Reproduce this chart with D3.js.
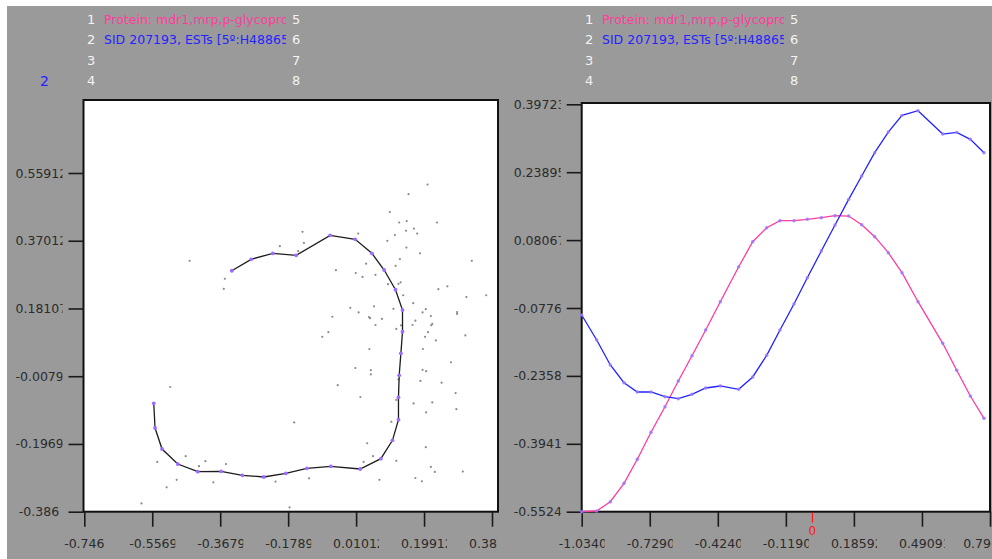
<!DOCTYPE html>
<html>
<head>
<meta charset="utf-8">
<script src="https://cdn.jsdelivr.net/npm/d3@7"></script>
<style>
  html, body { margin: 0; padding: 0; background: #ffffff; overflow: hidden; }
  svg { display: block; font-family: "DejaVu Sans", Verdana, sans-serif; }
</style>
</head>
<body>
<svg id="chart" width="992" height="559"></svg>
<script>
// ---- series names (legend slots 1..8, only 1 and 2 are used) ----
const seriesNames = ["Protein: mdr1,mrp,p-glycoprotein", "SID 207193, ESTs [5º:H48865]"];
const seriesColors = ["#ff3d9e", "#2323ff"];

// ---- left panel: projected samples ----
const scatterX = [0.209,0.156,0.104,0.235,0.130,0.151,0.171,0.149,0.180,0.118,0.016,-0.139,0.097,-0.135,-0.202,0.150,0.188,-0.151,-0.453,0.132,
  0.038,0.120,0.332,-0.046,0.009,0.064,0.028,-0.355,-0.358,0.134,0.128,0.099,0.264,0.239,0.372,0.317,0.141,0.169,0.060,-0.006,
  0.114,0.017,0.204,0.195,0.291,0.291,0.046,0.049,0.082,0.218,-0.056,0.175,0.135,0.167,0.222,0.219,0.064,0.122,0.210,-0.067,
  -0.084,0.202,0.314,0.232,0.047,0.196,0.008,0.051,0.051,0.195,0.205,0.274,0.189,0.248,0.128,0.022,0.122,0.287,0.170,0.222,
  0.289,-0.041,-0.507,0.205,0.108,-0.162,0.204,0.041,0.057,0.031,0.122,0.218,0.229,0.307,0.175,0.193,0.075,-0.464,-0.543,-0.427,
  -0.409,-0.352,-0.489,-0.517,-0.387,-0.214,-0.121,-0.587,-0.175];
const scatterY = [0.527,0.500,0.450,0.421,0.421,0.425,0.404,0.398,0.390,0.386,0.390,0.395,0.370,0.364,0.355,0.351,0.335,0.341,0.314,0.319,
  0.306,0.300,0.314,0.288,0.280,0.275,0.269,0.264,0.236,0.254,0.250,0.249,0.243,0.235,0.218,0.213,0.218,0.196,0.187,0.183,
  0.180,0.170,0.179,0.170,0.171,0.166,0.157,0.154,0.152,0.160,0.158,0.147,0.134,0.135,0.138,0.134,0.135,0.124,0.115,0.115,
  0.102,0.102,0.106,0.092,0.068,0.068,0.015,0.009,-0.003,0.010,0.006,0.031,-0.021,-0.026,-0.017,-0.066,-0.074,-0.055,-0.084,-0.081,
  -0.100,-0.033,-0.038,-0.109,-0.135,-0.137,-0.206,-0.195,-0.231,-0.247,-0.244,-0.261,-0.275,-0.274,-0.292,-0.301,-0.297,-0.231,-0.247,-0.259,
  -0.245,-0.253,-0.297,-0.318,-0.304,-0.302,-0.293,-0.363,-0.374];

// ---- left panel: principal curve nodes ----
const curveX = [-0.3357,-0.2820,-0.2216,-0.1567,-0.0621,0.0075,0.0540,0.0882,0.1197,0.1392,0.1392,0.1347,0.1300,0.1280,0.1280,
  0.1113,0.0790,0.0214,-0.0601,-0.1269,-0.1854,-0.2466,-0.3062,-0.3655,-0.4303,-0.4860,-0.5297,-0.5492,-0.5528];
const curveY = [0.2864,0.3182,0.3350,0.3294,0.3852,0.3740,0.3350,0.2884,0.2334,0.1768,0.1162,0.0560,-0.0054,-0.0668,-0.1293,
  -0.1868,-0.2381,-0.2669,-0.2593,-0.2649,-0.2789,-0.2892,-0.2844,-0.2733,-0.2744,-0.2529,-0.2111,-0.1525,-0.0836];

// ---- right panel: profiles along the curve ----
const lambda = [-1.034,-0.9668,-0.9058,-0.8444,-0.7848,-0.7234,-0.6607,-0.6011,-0.5397,-0.4783,-0.4128,-0.3304,-0.2676,-0.2049,-0.1453,
  -0.0826,-0.0229,0.0398,0.1012,0.1626,0.2208,0.2791,0.3401,0.4015,0.4732,0.5839,0.6466,0.7076,0.7690];
const proteinProfile = [-0.5524,-0.5508,-0.5291,-0.4862,-0.4303,-0.3673,-0.3077,-0.2478,-0.1888,-0.1289,-0.0629,0.0186,0.0769,0.1095,0.1259,
  0.1259,0.1291,0.1329,0.1375,0.1368,0.1165,0.0886,0.0513,0.0047,-0.0629,-0.1599,-0.2228,-0.2827,-0.3347];
const estProfile = [-0.0939,-0.1522,-0.2105,-0.2517,-0.2734,-0.2734,-0.2844,-0.2890,-0.2788,-0.2641,-0.2594,-0.2671,-0.2384,-0.1879,-0.1289,
  -0.0683,-0.0070,0.0552,0.1158,0.1757,0.2300,0.2844,0.3326,0.3715,0.3822,0.3279,0.3319,0.3156,0.2844];

// ---- tick values and their printed labels ----
const leftXTicks = [-0.746,-0.556975,-0.36795,-0.178925,0.0101,0.199125,0.38815];
const leftXLabels = ["-0.746","-0.556975","-0.36795","-0.178925","0.010125","0.199125","0.38815"];
const leftYTicks = [-0.386,-0.196975,-0.00795,0.181075,0.3701,0.559125];
const leftYLabels = ["-0.386","-0.196975","-0.00795","0.181075","0.370125","0.559125"];
const rightXTicks = [-1.034,-0.72902,-0.42404,-0.11906,0.18592,0.4909,0.79588];
const rightXLabels = ["-1.03400","-0.72902","-0.42404","-0.11906","0.185925","0.490912","0.79588"];
const rightYTicks = [-0.55245,-0.39417,-0.23589,-0.07761,0.08067,0.23895,0.39723];
const rightYLabels = ["-0.55245","-0.39417","-0.23589","-0.07761","0.08067","0.23895","0.39723"];

// ---- layout ----
const W = 992, H = 559;
const panelShift = 498;
const svg = d3.select("#chart");
const defs = svg.append("defs");
let clipCount = 0;

svg.append("rect").attr("x", 7).attr("y", 6).attr("width", W - 7).attr("height", H - 6).attr("fill", "#9a9a9a");

const frameL = { x0: 83.5, x1: 498, y0: 100, y1: 511.7 };
const frameR = { x0: 581.7, x1: 990, y0: 103, y1: 511.7 };

const xL = d3.scaleLinear().domain([leftXTicks[0], leftXTicks[6]]).range([84.3, 492]);
const yL = d3.scaleLinear().domain([leftYTicks[0], leftYTicks[5]]).range([511.7, 173]);
const xR = d3.scaleLinear().domain([rightXTicks[0], rightXTicks[6]]).range([581.7, 990]);
const yR = d3.scaleLinear().domain([rightYTicks[0], rightYTicks[6]]).range([511.7, 104.3]);

// Text held in a box: centred when it fits; otherwise left-aligned, trimmed to the
// characters that end near the box edge, and clipped there. A label that would
// run past the panel edge is nudged back inside it.
function boxLabel(parent, str, x0, x1, baseline, opts) {
  const size = opts.size || 12.5;
  const slack = opts.slack == null ? 6 : opts.slack;
  const edge = opts.edge == null ? Infinity : opts.edge;
  const t = parent.append("text")
    .attr("y", baseline)
    .attr("font-size", size)
    .attr("fill", opts.color || "#2b2b2b")
    .text(str);
  const node = t.node();
  const w = node.getComputedTextLength();
  if (!opts.left && w <= x1 - x0) {
    t.attr("x", (x0 + x1) / 2).attr("text-anchor", "middle");
    return t;
  }
  let left = x0, right = x1;
  if (w > x1 - x0) {
    const limit = Math.min((x1 - x0) + slack, edge + 4 - x0);
    let n = str.length;
    while (n > 1 && node.getSubStringLength(0, n) > limit) n--;
    const kept = node.getSubStringLength(0, n);
    t.text(str.slice(0, n));
    if (x0 + kept > edge) { left = edge - kept; right = edge; }
    const id = "lbl" + (clipCount++);
    defs.append("clipPath").attr("id", id)
      .append("rect").attr("x", left).attr("y", baseline - 15).attr("width", right - left).attr("height", 21);
    t.attr("clip-path", `url(#${id})`);
  }
  t.attr("x", left);
  return t;
}

// ---- legends (same layout in both panels) ----
[0, panelShift].forEach(off => {
  const g = svg.append("g");
  const rows = [24, 44, 65, 85];
  rows.forEach((b, i) => {
    g.append("text").attr("x", off + 87).attr("y", b).attr("font-size", 13).attr("fill", "#f4f4f4").text(i + 1);
    g.append("text").attr("x", off + 292).attr("y", b).attr("font-size", 13).attr("fill", "#f4f4f4").text(i + 5);
    if (i < seriesNames.length) {
      boxLabel(g, seriesNames[i], off + 104, off + 286, b, { color: seriesColors[i], left: true, size: 12.5, slack: 4 });
    }
  });
});
svg.append("text").attr("x", 40).attr("y", 86).attr("font-size", 14).attr("fill", "#2323ff").text("2");

// ---- frames ----
[frameL, frameR].forEach(f => {
  svg.append("rect").attr("x", f.x0).attr("y", f.y0)
    .attr("width", f.x1 - f.x0).attr("height", f.y1 - f.y0)
    .attr("fill", "#ffffff").attr("stroke", "#111").attr("stroke-width", 2);
});

// ---- axes ----
function drawAxes(xs, ys, xt, xl, yt, yl, frame, panelRight) {
  const gx = svg.append("g").attr("transform", `translate(0,${frame.y1})`)
    .call(d3.axisBottom(xs).tickValues(xt).tickSize(15).tickFormat(""));
  gx.select(".domain").remove();
  gx.selectAll("line").attr("stroke", "#1a1a1a").attr("stroke-width", 1.6);
  const gy = svg.append("g").attr("transform", `translate(${frame.x0},0)`)
    .call(d3.axisLeft(ys).tickValues(yt).tickSize(15).tickFormat(""));
  gy.select(".domain").remove();
  gy.selectAll("line").attr("stroke", "#1a1a1a").attr("stroke-width", 1.6);

  const lab = svg.append("g");
  xt.forEach((v, i) => {
    const cx = xs(v);
    boxLabel(lab, xl[i], cx - 23, Math.min(cx + 23, panelRight), 548, { slack: 7, edge: panelRight });
  });
  yt.forEach((v, i) => {
    const cy = ys(v);
    boxLabel(lab, yl[i], frame.x0 - 68, frame.x0 - 21, cy + 4.5, { slack: 5 });
  });
}
drawAxes(xL, yL, leftXTicks, leftXLabels, leftYTicks, leftYLabels, frameL, 498);
drawAxes(xR, yR, rightXTicks, rightXLabels, rightYTicks, rightYLabels, frameR, 991);

// zero marker on the right x axis
svg.append("line").attr("x1", xR(0)).attr("x2", xR(0)).attr("y1", frameR.y1 + 1).attr("y2", frameR.y1 + 11)
  .attr("stroke", "#ff1a1a").attr("stroke-width", 1.2);
svg.append("text").attr("x", xR(0)).attr("y", 535).attr("text-anchor", "middle")
  .attr("font-size", 12).attr("fill", "#ff1a1a").text("0");

// ---- left panel marks ----
const gl = svg.append("g");
gl.selectAll("circle.sample").data(scatterX.map((x, i) => [x, scatterY[i]])).join("circle")
  .attr("class", "sample").attr("cx", d => xL(d[0])).attr("cy", d => yL(d[1]))
  .attr("r", 1.1).attr("fill", "#8a8a8a");

const curvePts = curveX.map((x, i) => [x, curveY[i]]);
gl.append("path").datum(curvePts)
  .attr("d", d3.line().x(d => xL(d[0])).y(d => yL(d[1])))
  .attr("fill", "none").attr("stroke", "#1c1c1c").attr("stroke-width", 1.3);
gl.selectAll("circle.node").data(curvePts).join("circle")
  .attr("class", "node").attr("cx", d => xL(d[0])).attr("cy", d => yL(d[1]))
  .attr("r", 1.9).attr("fill", "#9b6cff");

// ---- right panel marks ----
const gr = svg.append("g");
const profiles = [proteinProfile, estProfile];
profiles.forEach((vals, s) => {
  const pts = lambda.map((x, i) => [x, vals[i]]);
  gr.append("path").datum(pts)
    .attr("d", d3.line().x(d => xR(d[0])).y(d => yR(d[1])))
    .attr("fill", "none").attr("stroke", seriesColors[s]).attr("stroke-width", 1.3);
});
profiles.forEach(vals => {
  gr.selectAll(null).data(lambda.map((x, i) => [x, vals[i]])).join("circle")
    .attr("cx", d => xR(d[0])).attr("cy", d => yR(d[1]))
    .attr("r", 1.7).attr("fill", "#9a78ff").attr("opacity", 0.9);
});
</script>
</body>
</html>
